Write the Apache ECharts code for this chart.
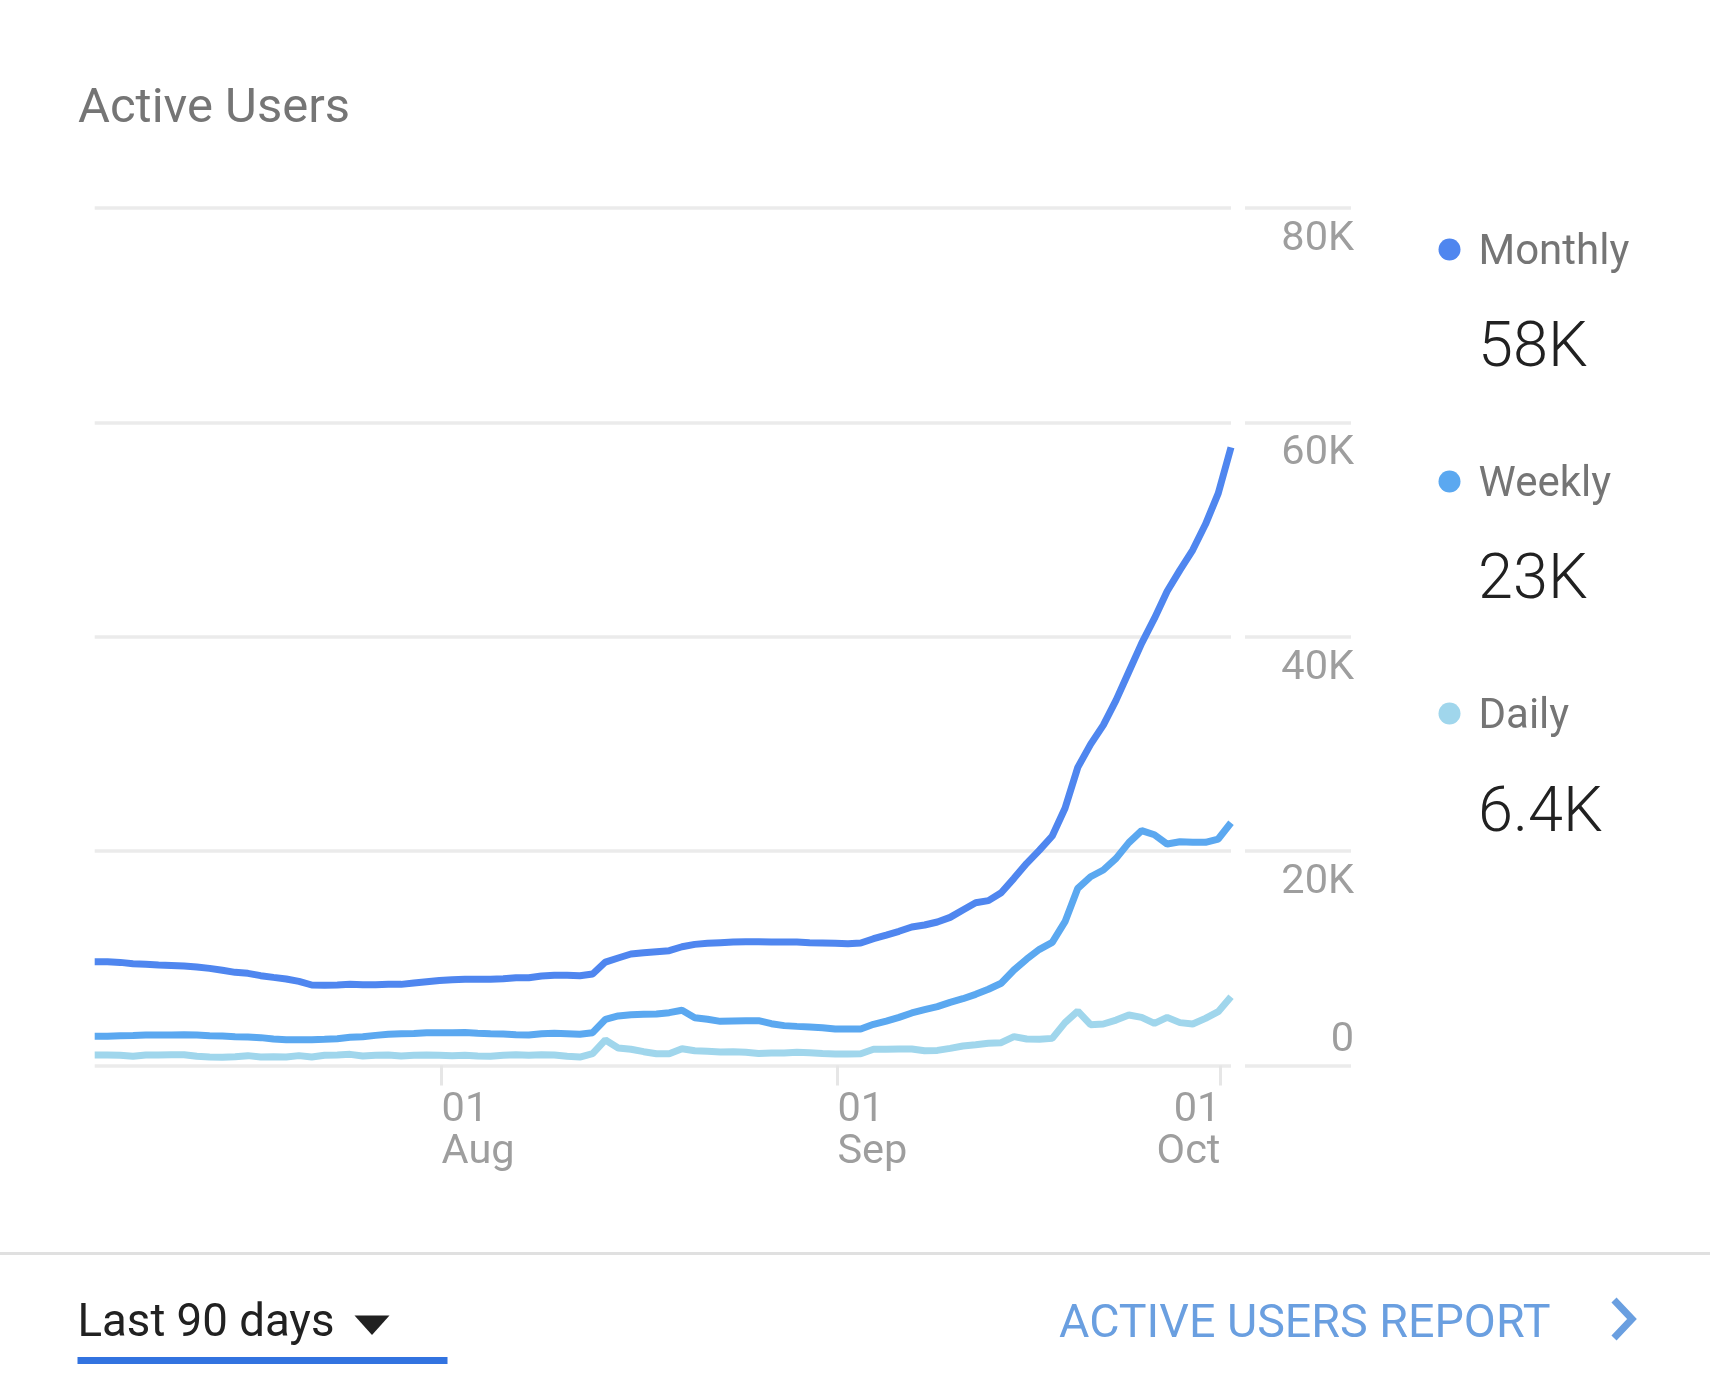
<!DOCTYPE html>
<html>
<head>
<meta charset="utf-8">
<title>Active Users</title>
<script src="https://cdn.jsdelivr.net/npm/echarts@6/dist/echarts.min.js"></script>
<style>
	html, body { margin: 0; padding: 0; background: #fff; }
	#main { width: 1710px; height: 1384px; }
</style>
</head>
<body>
<div id="main"></div>
<script>
// values in thousands, one per day from 5 Jul to 2 Oct
var monthly = [
	9.69,9.69,9.62,9.50,9.44,9.38,9.34,9.28,9.19,9.06,
	8.88,8.69,8.60,8.38,8.22,8.07,7.85,7.51,7.48,7.51,
	7.57,7.54,7.54,7.57,7.57,7.70,7.82,7.94,8.01,8.04,
	8.04,8.04,8.10,8.19,8.19,8.35,8.41,8.41,8.38,8.54,
	9.65,10.03,10.40,10.52,10.62,10.71,11.08,11.30,11.40,11.46,
	11.52,11.55,11.55,11.52,11.52,11.52,11.46,11.43,11.40,11.36,
	11.43,11.83,12.17,12.52,12.92,13.11,13.39,13.82,14.51,15.19,
	15.38,16.12,17.46,18.86,20.10,21.41,24.00,27.81,29.96,31.76,
	34.09,36.73,39.38,41.71,44.25,46.22,48.09,50.49,53.38,57.67
];
var weekly = [
	2.72,2.72,2.78,2.81,2.85,2.85,2.85,2.86,2.85,2.78,
	2.75,2.69,2.66,2.60,2.47,2.41,2.41,2.41,2.44,2.50,
	2.63,2.69,2.81,2.91,2.97,2.98,3.06,3.06,3.06,3.08,
	3.02,2.97,2.94,2.88,2.85,2.97,3.00,2.97,2.91,3.06,
	4.31,4.62,4.74,4.77,4.80,4.93,5.15,4.46,4.31,4.12,
	4.15,4.18,4.18,3.90,3.72,3.65,3.59,3.53,3.40,3.40,
	3.40,3.84,4.15,4.49,4.90,5.21,5.49,5.89,6.23,6.64,
	7.11,7.67,8.91,9.93,10.84,11.49,13.42,16.53,17.61,18.24,
	19.32,20.79,21.91,21.53,20.66,20.88,20.82,20.82,21.13,22.65
];
var daily = [
	0.98,0.98,0.95,0.86,0.98,0.98,1.01,1.01,0.86,0.79,
	0.76,0.82,0.92,0.79,0.82,0.79,0.92,0.79,0.95,0.98,
	1.04,0.89,0.95,0.98,0.89,0.95,0.98,0.95,0.92,0.95,
	0.89,0.86,0.95,1.01,0.95,1.01,0.98,0.86,0.79,1.10,
	2.38,1.63,1.51,1.29,1.10,1.10,1.57,1.38,1.32,1.26,
	1.29,1.23,1.13,1.17,1.17,1.23,1.20,1.13,1.07,1.07,
	1.10,1.51,1.51,1.54,1.54,1.38,1.41,1.60,1.82,1.94,
	2.07,2.13,2.69,2.47,2.44,2.53,4.00,5.08,3.81,3.87,
	4.24,4.71,4.49,3.93,4.49,4.00,3.87,4.40,5.02,6.42
];
var seriesNames = ['Monthly', 'Weekly', 'Daily'];
var seriesColors = ['#4f86ef', '#5ba8f0', '#a0d6ec'];
var latestValues = ['58K', '23K', '6.4K'];
var yTickLabels = ['0', '20K', '40K', '60K', '80K'];
var xTickDays = ['08-01', '09-01', '10-01'];
var xTickLabels = ['01\nAug', '01\nSep', '01\nOct'];

// one category per day
var days = [];
for (var i = 0; i < monthly.length; i++) {
	var day = new Date(2000, 6, 5 + i);
	days.push(('0' + (day.getMonth() + 1)).slice(-2) + '-' + ('0' + day.getDate()).slice(-2));
}

var FONT = 'Roboto, "Noto Sans", sans-serif';
var GRID_LINE = '#ebebeb';
var AXIS_TEXT = '#9e9e9e';
var LINK = '#6a9fe0';

var isTickDay = function (index, value) {
	return xTickDays.indexOf(value) >= 0;
};

var myChart = echarts.init(document.getElementById('main'));

var option = {
	animation: false,
	backgroundColor: '#fff',
	color: seriesColors,
	textStyle: { fontFamily: FONT },
	title: {
		text: 'Active Users',
		left: 78,
		top: 82,
		padding: 0,
		textStyle: { fontFamily: FONT, fontSize: 49, fontWeight: 400, lineHeight: 56, color: '#757575' }
	},
	legend: {
		orient: 'vertical',
		left: 1438.5,
		top: 225,
		padding: 0,
		itemWidth: 22,
		itemHeight: 22,
		itemGap: 183,
		icon: 'circle',
		selectedMode: false,
		data: seriesNames,
		// plain text padding does not move a middle aligned label, a rich token does
		formatter: '{n|{name}}',
		textStyle: {
			rich: {
				n: {
					fontFamily: FONT,
					fontSize: 42,
					lineHeight: 48,
					color: '#757575',
					padding: [7, 0, 0, 13]
				}
			}
		}
	},
	// plot, the right hand label column, and the date axis which sits 2px right of the plot
	grid: [
		{ left: 94.7, top: 208, width: 1136.3, height: 857.5 },
		{ left: 1245, top: 208, width: 106, height: 857.5 },
		{ left: 96.9, top: 208, width: 1136.3, height: 857.5 }
	],
	xAxis: [
		{ type: 'category', gridIndex: 0, show: false, boundaryGap: false, data: days },
		{ type: 'category', gridIndex: 1, show: false, data: days },
		{
			type: 'category',
			gridIndex: 2,
			boundaryGap: false,
			data: days,
			axisLine: { show: false },
			axisTick: {
				show: true,
				interval: isTickDay,
				length: 20,
				lineStyle: { color: '#e6e6e6', width: 3 }
			},
			axisLabel: {
				interval: isTickDay,
				margin: 24,
				align: 'left',
				alignMaxLabel: 'right',
				fontFamily: FONT,
				fontSize: 41.5,
				lineHeight: 42,
				color: AXIS_TEXT,
				formatter: function (value) {
					return xTickLabels[xTickDays.indexOf(value)];
				}
			},
			splitLine: { show: false }
		}
	],
	yAxis: [
		{
			type: 'value',
			gridIndex: 0,
			min: 0,
			max: 80,
			interval: 20,
			axisLine: { show: false },
			axisTick: { show: false },
			axisLabel: { show: false },
			splitLine: { lineStyle: { color: GRID_LINE, width: 3.5 } }
		},
		{
			type: 'value',
			gridIndex: 1,
			position: 'right',
			min: 0,
			max: 80,
			interval: 20,
			axisLine: { show: false },
			axisTick: { show: false },
			splitLine: { show: true, lineStyle: { color: GRID_LINE, width: 3.5 } },
			axisLabel: {
				inside: true,
				margin: -3,
				verticalAlign: 'top',
				verticalAlignMinLabel: 'bottom',
				fontFamily: FONT,
				fontSize: 41.5,
				lineHeight: 50,
				padding: [6.4, 0, 0, 0],
				color: AXIS_TEXT,
				formatter: function (value) {
					return yTickLabels[value / 20];
				}
			}
		},
		{ type: 'value', gridIndex: 2, show: false, min: 0, max: 80, splitLine: { show: false } }
	],
	series: [
		{ name: seriesNames[0], type: 'line', data: monthly },
		{ name: seriesNames[1], type: 'line', data: weekly },
		{ name: seriesNames[2], type: 'line', data: daily }
	].map(function (s) {
		s.xAxisIndex = 0;
		s.yAxisIndex = 0;
		s.symbol = 'none';
		s.lineStyle = { width: 7 };
		s.silent = true;
		return s;
	}),
	graphic: latestValues.map(function (text, i) {
		return {
			type: 'text',
			left: 1478,
			top: 345 + i * 232.5 - 31,
			style: { text: text, font: '300 63px ' + FONT, fill: '#212121', lineHeight: 72 }
		};
	}).concat([
		{
			type: 'rect',
			shape: { x: 0, y: 1252, width: 1710, height: 3 },
			style: { fill: '#e0e0e0' }
		},
		{
			type: 'text',
			left: 77.5,
			top: 1299,
			style: { text: 'Last 90 days', font: '400 45.6px ' + FONT, fill: '#212121', lineHeight: 52 }
		},
		{
			type: 'polygon',
			shape: { points: [[354.5, 1315.5], [389.5, 1315.5], [372, 1335]] },
			style: { fill: '#212121' }
		},
		{
			type: 'rect',
			shape: { x: 77.5, y: 1357, width: 370, height: 7 },
			style: { fill: '#3273e0' }
		},
		{
			type: 'text',
			left: 1059,
			top: 1299.5,
			style: { text: 'ACTIVE USERS REPORT', font: '400 46.6px ' + FONT, fill: LINK, lineHeight: 52 }
		},
		{
			type: 'polyline',
			shape: { points: [[1614, 1300], [1632, 1319], [1614, 1338]] },
			style: { stroke: LINK, lineWidth: 7, fill: null, lineJoin: 'miter' }
		}
	])
};

myChart.setOption(option);
</script>
</body>
</html>
